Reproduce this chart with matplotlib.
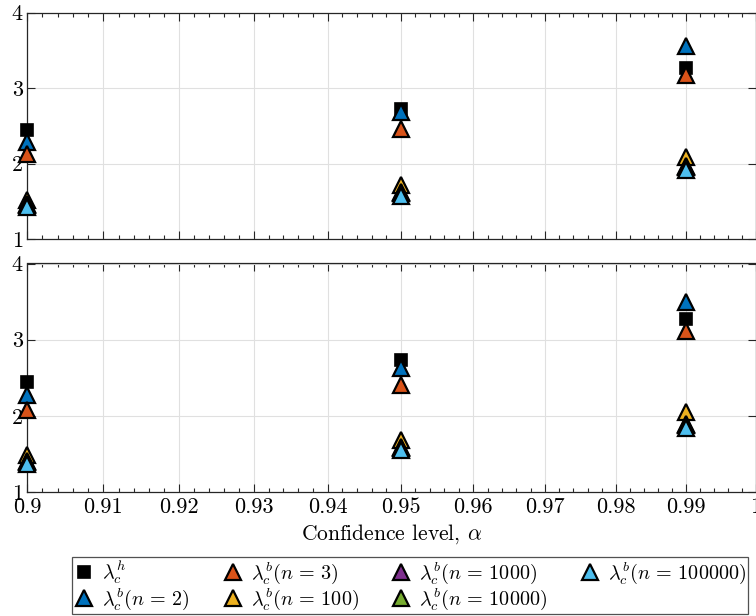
import numpy as np
import matplotlib
matplotlib.use('Agg')
import matplotlib.pyplot as plt
from matplotlib.ticker import FixedLocator, NullFormatter

plt.rcParams['font.family'] = 'serif'
plt.rcParams['font.serif'] = ['cmr10']
plt.rcParams['mathtext.fontset'] = 'cm'
plt.rcParams['axes.formatter.use_mathtext'] = True

# confidence levels
alpha = [0.9, 0.95, 0.99]

# top panel
top_h = [2.45, 2.72, 3.27]
top_n2 = [2.29, 2.68, 3.55]
top_n3 = [2.12, 2.46, 3.17]
top_n100 = [1.52, 1.72, 2.09]
top_n1000 = [1.46, 1.62, 1.97]
top_n10000 = [1.45, 1.61, 1.96]
top_n100000 = [1.42, 1.57, 1.92]

# bottom panel
bot_h = [2.44, 2.73, 3.27]
bot_n2 = [2.27, 2.63, 3.50]
bot_n3 = [2.08, 2.41, 3.12]
bot_n100 = [1.48, 1.68, 2.05]
bot_n1000 = [1.41, 1.59, 1.89]
bot_n10000 = [1.40, 1.58, 1.88]
bot_n100000 = [1.37, 1.55, 1.84]

labels = [r'$\lambda_c^h$', r'$\lambda_c^b(n\,=\,2)$', r'$\lambda_c^b(n\,=\,3)$',
          r'$\lambda_c^b(n\,=\,100)$', r'$\lambda_c^b(n\,=\,1000)$',
          r'$\lambda_c^b(n\,=\,10000)$', r'$\lambda_c^b(n\,=\,100000)$']
colors = ['#000000', '#0072BD', '#D95319', '#EDB120', '#7E2F8E', '#77AC30', '#4DBEEE']

xticks = [round(0.9 + 0.01 * i, 2) for i in range(11)]
xticklabels = ['%g' % v for v in xticks]
xminor = [round(0.9 + 0.002 * i, 3) for i in range(51)]

fig = plt.figure(figsize=(7.56, 6.16), dpi=100)
ax1 = fig.add_axes([27 / 756, 1 - 239 / 616, 728.5 / 756, 226.5 / 616])
ax2 = fig.add_axes([27 / 756, 1 - 492 / 616, 728.5 / 756, 228.5 / 616])


def draw(ax, series):
    handles = []
    for i, (vals, c, lab) in enumerate(zip(series, colors, labels)):
        if i == 0:
            h, = ax.plot(alpha, vals, 's', ms=8.5, mfc=c, mec='k', mew=1.2,
                         label=lab, clip_on=False, zorder=3 + i)
        else:
            h, = ax.plot(alpha, vals, '^', ms=11, mfc=c, mec='k', mew=1.6,
                         label=lab, clip_on=False, zorder=3 + i)
        handles.append(h)
    ax.set_xscale('log')
    ax.set_xlim(0.9, 1.0)
    ax.set_ylim(1, 4)
    ax.xaxis.set_major_locator(FixedLocator(xticks))
    ax.xaxis.set_minor_locator(FixedLocator(xminor))
    ax.xaxis.set_minor_formatter(NullFormatter())
    ax.yaxis.set_major_locator(FixedLocator([1, 2, 3, 4]))
    ax.set_yticklabels(['1', '2', '3', '4'])
    ax.tick_params(which='both', direction='in', top=True, right=True,
                   color='#262626', labelsize=16, width=0.8)
    ax.tick_params(which='major', length=6, pad=4)
    ax.tick_params(which='minor', length=3)
    ax.tick_params(axis='y', pad=3)
    ax.grid(True, which='major', color='#e0e0e0', linewidth=0.8)
    ax.set_axisbelow(True)
    for s in ax.spines.values():
        s.set_color('#262626')
        s.set_linewidth(0.9)
    return handles


draw(ax1, [top_h, top_n2, top_n3, top_n100, top_n1000, top_n10000, top_n100000])
ax1.set_xticklabels([])
handles = draw(ax2, [bot_h, bot_n2, bot_n3, bot_n100, bot_n1000, bot_n10000, bot_n100000])
ax2.set_xticklabels(xticklabels)
ax2.set_xlabel(r'Confidence level, $\alpha$', fontsize=15.5, labelpad=4)

leg = fig.legend(handles=handles, loc='lower center', ncol=4,
                 bbox_to_anchor=(410 / 756, 0.003), fontsize=14.5,
                 frameon=True, fancybox=False, edgecolor='#262626',
                 borderpad=0.1, borderaxespad=0, handletextpad=0.4,
                 columnspacing=1.6, labelspacing=0.0, handlelength=1.0,
                 handleheight=0.6)
leg.get_frame().set_linewidth(0.9)

fig.savefig('out.png', dpi=100)
